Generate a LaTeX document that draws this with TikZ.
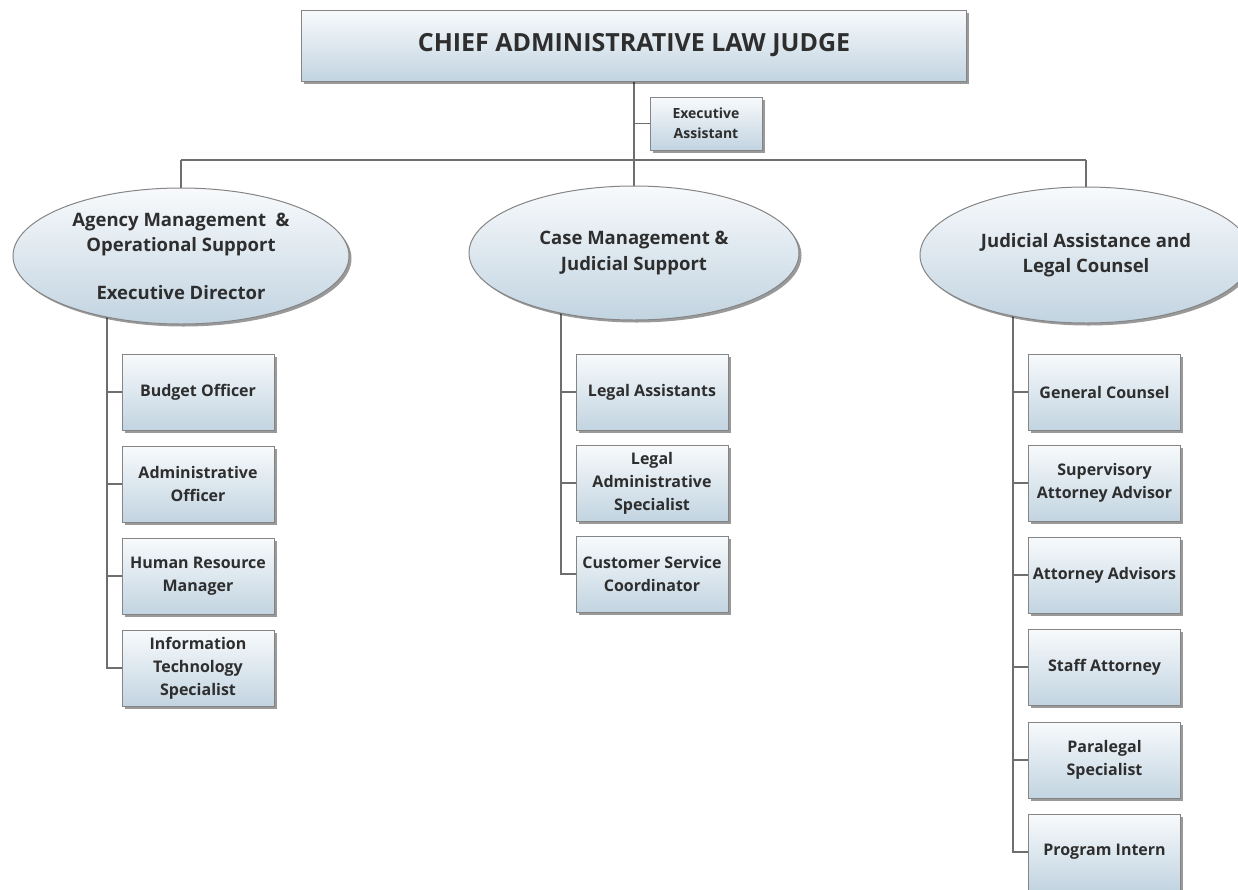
\documentclass[tikz,border=0pt]{standalone}
\usepackage{fontspec}
\setmainfont{Open Sans}
\usetikzlibrary{shapes.geometric,shadows}
\pgfdeclarelayer{background}
\pgfsetlayers{background,main}
\definecolor{linegray}{HTML}{6E6E6E}
\definecolor{boxedge}{HTML}{858585}
\definecolor{fillTop}{HTML}{F8FAFC}
\definecolor{fillBot}{HTML}{C2D4E1}
\definecolor{txt}{HTML}{2E2E2E}
\begin{document}
\begin{tikzpicture}[x=1pt,y=-1pt,
  shaded/.style={draw=boxedge, line width=1pt, top color=fillTop, bottom color=fillBot,
    text=txt, align=center, inner sep=0pt,
    drop shadow={shadow xshift=2.5pt, shadow yshift=-2.5pt, fill=black, opacity=0.4}},
  unitbox/.style={shaded, rectangle, minimum width=152pt, minimum height=76pt,
    font=\bfseries\fontsize{16}{23}\selectfont},
  divnode/.style={shaded, ellipse, font=\bfseries\fontsize{18.5}{25.5}\selectfont},
  conn/.style={draw=linegray, line width=1.2pt}
]
\useasboundingbox (0,0) rectangle (1238,889);

% head of the organisation
\node[shaded, rectangle, minimum width=665pt, minimum height=71pt,
  font=\bfseries\fontsize{25}{30}\selectfont] (chief) at (634,45.5)
  {CHIEF ADMINISTRATIVE LAW JUDGE};
\node[shaded, rectangle, minimum width=112pt, minimum height=53pt,
  font=\bfseries\fontsize{14}{20}\selectfont] (exec) at (706,123.5)
  {Executive\\Assistant};

% the three divisions
\node[divnode, minimum width=336pt, minimum height=136pt] (ellL) at (181,256)
  {Agency Management\ \ \&\\Operational Support\\[22pt]Executive Director};
\node[divnode, minimum width=330pt, minimum height=134pt] (ellM) at (634,253)
  {Case Management \&\\Judicial Support};
\node[divnode, minimum width=332pt, minimum height=136pt] (ellR) at (1086,255)
  {Judicial Assistance and\\Legal Counsel};

% agency management units
\node[unitbox] (bud) at (198,392) {Budget Officer};
\node[unitbox] (adm) at (198,484) {Administrative\\Officer};
\node[unitbox] (hrm) at (198,576) {Human Resource\\Manager};
\node[unitbox] (its) at (198,668) {Information\\Technology\\Specialist};

% case management units
\node[unitbox] (las) at (652,392) {Legal Assistants};
\node[unitbox] (lad) at (652,483) {Legal\\Administrative\\Specialist};
\node[unitbox] (csc) at (652,574) {Customer Service\\Coordinator};

% judicial assistance units
\node[unitbox] (gco) at (1104.5,392) {General Counsel};
\node[unitbox] (sup) at (1104.5,483) {Supervisory\\Attorney Advisor};
\node[unitbox] (att) at (1104.5,575) {Attorney Advisors};
\node[unitbox] (sta) at (1104.5,667) {Staff Attorney};
\node[unitbox] (par) at (1104.5,760) {Paralegal\\Specialist};
\node[unitbox] (pin) at (1104.5,852) {Program Intern};

% connectors
\coordinate (busL) at (181,160);
\coordinate (busR) at (1086,160);
\coordinate (sL) at (107,0);
\coordinate (sM) at (561,0);
\coordinate (sR) at (1013,0);
\begin{pgfonlayer}{background}
  \draw[conn] (chief) -- (ellM);
  \draw[conn] (chief.south |- exec.west) -- (exec.west);
  \draw[conn] (busL) -- (busR);
  \draw[conn] (busL) -- (ellL);
  \draw[conn] (busR) -- (ellR);
  \foreach \u in {bud,adm,hrm,its}
    \draw[conn] (ellL.center -| sL) |- (\u.west);
  \foreach \u in {las,lad,csc}
    \draw[conn] (ellM.center -| sM) |- (\u.west);
  \foreach \u in {gco,sup,att,sta,par,pin}
    \draw[conn] (ellR.center -| sR) |- (\u.west);
\end{pgfonlayer}
\end{tikzpicture}
\end{document}
